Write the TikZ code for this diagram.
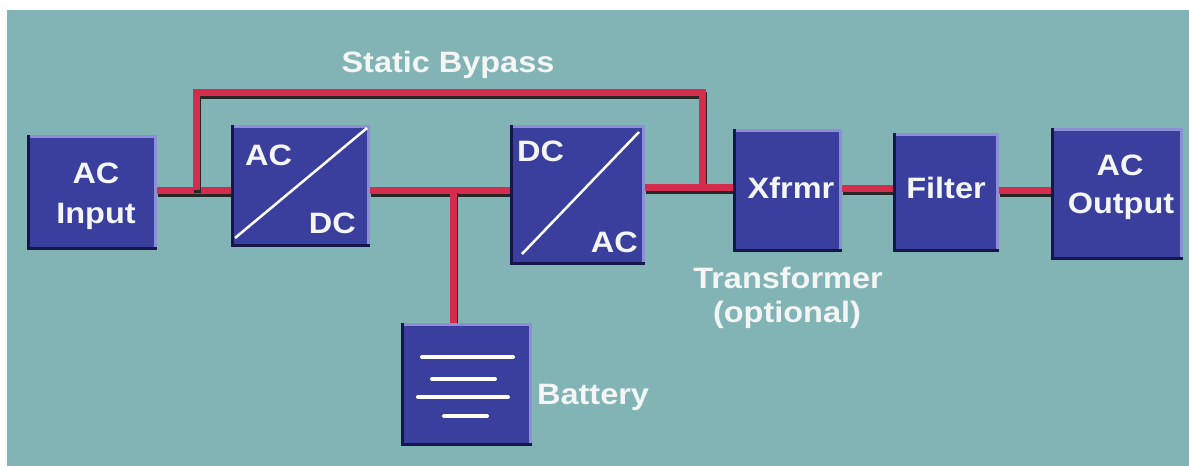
\documentclass[tikz,border=0pt]{standalone}
\usepackage{fontspec}
\setmainfont{Liberation Sans}[FakeStretch=1.1]
\usetikzlibrary{calc}
\definecolor{bgteal}{HTML}{82B4B6}
\definecolor{boxblue}{HTML}{3A3F9E}
\definecolor{bevlite}{HTML}{8C8ED6}
\definecolor{bevdark}{HTML}{15174A}
\definecolor{wirered}{HTML}{D42C4C}
\definecolor{txtwhite}{HTML}{F4F6F6}
\begin{document}
\begin{tikzpicture}[x=1pt,y=-1pt,
  blk/.style={fill=boxblue, draw=none, inner sep=0pt, outer sep=0pt},
  lbl/.style={text=txtwhite, font=\fontsize{29.5}{31}\selectfont\bfseries, inner sep=0pt},
  wire/.style={draw=wirered, line width=7pt,
    preaction={draw=black!85, line width=7pt, transform canvas={shift={(1pt,-3pt)}}}},
  slash/.style={draw=white, line width=2.5pt},
  cell/.style={draw=white, line width=4pt, line cap=round}]
\useasboundingbox (0,0) rectangle (1189,466);
\fill[white] (0,0) rectangle (1189,466);
\fill[bgteal] (7,10) rectangle (1189,466);

% boxes
\node[blk, minimum width=130pt, minimum height=115pt] (acin)  at (92,192.5) {};
\node[blk, minimum width=139pt, minimum height=122pt] (acdc)  at (300.5,186) {};
\node[blk, minimum width=135pt, minimum height=140pt] (dcac)  at (577.5,195) {};
\node[blk, minimum width=109pt, minimum height=123pt] (xfmr)  at (787.5,190.5) {};
\node[blk, minimum width=106pt, minimum height=119pt] (filt)  at (946,192.5) {};
\node[blk, minimum width=132pt, minimum height=132pt] (acout) at (1117,194) {};
\node[blk, minimum width=131pt, minimum height=123pt] (batt)  at (466.5,384.5) {};

% junctions
\coordinate (j1) at (196,190);
\coordinate (bl) at (196,92);
\coordinate (br) at (702,92);
\coordinate (jt) at (702,187);
\coordinate (jb) at (453,190);
\coordinate (jx) at (0,188);
\coordinate (jf) at (0,190);

% wires
\draw[wire] (acin.east |- j1) -- (acdc.west |- j1);
\draw[wire] (j1) -- (bl) -- (br) -- (jt);
\draw[wire] (acdc.east |- jb) -- (dcac.west |- jb);
\draw[wire] (jb) -- (jb |- batt.north);
\draw[wire] (dcac.east |- jt) -- (xfmr.west |- jt);
\draw[wire] (xfmr.east |- jx) -- (filt.west |- jx);
\draw[wire] (filt.east |- jf) -- (acout.west |- jf);

% redraw boxes on top with bevels
\foreach \n in {acin,acdc,dcac,xfmr,filt,acout,batt}{
  \fill[boxblue] (\n.north west) rectangle (\n.south east);
  \draw[bevlite, line width=3pt] ([shift={(0,1.5)}]\n.north west) -- ([shift={(-1.5,1.5)}]\n.north east) -- ([shift={(-1.5,0)}]\n.south east);
  \draw[bevdark, line width=3pt] ([shift={(1.5,0)}]\n.north west) -- ([shift={(1.5,-1.5)}]\n.south west) -- ([shift={(0,-1.5)}]\n.south east);
}

% converter slashes
\draw[slash] ([shift={(4,-9)}]acdc.south west) -- ([shift={(-3,3)}]acdc.north east);
\draw[slash] ([shift={(12,-11)}]dcac.south west) -- ([shift={(-6,7)}]dcac.north east);

% battery cells
\draw[cell] (422,357) -- (513,357);
\draw[cell] (432,379) -- (495,379);
\draw[cell] (418,397) -- (508,397);
\draw[cell] (444,416) -- (487,416);

% labels
\node[lbl, anchor=base] (tbyp) at (448,72) {Static Bypass};
\node[lbl, anchor=base] at (96,183) {AC};
\node[lbl, anchor=base] at (96,223) {Input};
\node[lbl, anchor=base west] at (245,165) {AC};
\node[lbl, anchor=base east] at (356,233) {DC};
\node[lbl, anchor=base west] at (517,161) {DC};
\node[lbl, anchor=base east] at (638,252) {AC};
\node[lbl, anchor=base] at (791,198) {Xfrmr};
\node[lbl, anchor=base] at (946,198) {Filter};
\node[lbl, anchor=base] at (1120,175) {AC};
\node[lbl, anchor=base] at (1121,213) {Output};
\node[lbl, anchor=base] at (788,288) {Transformer};
\node[lbl, anchor=base] at (787,322) {(optional)};
\node[lbl, anchor=base west] at (537,404) {Battery};
\end{tikzpicture}
\end{document}
